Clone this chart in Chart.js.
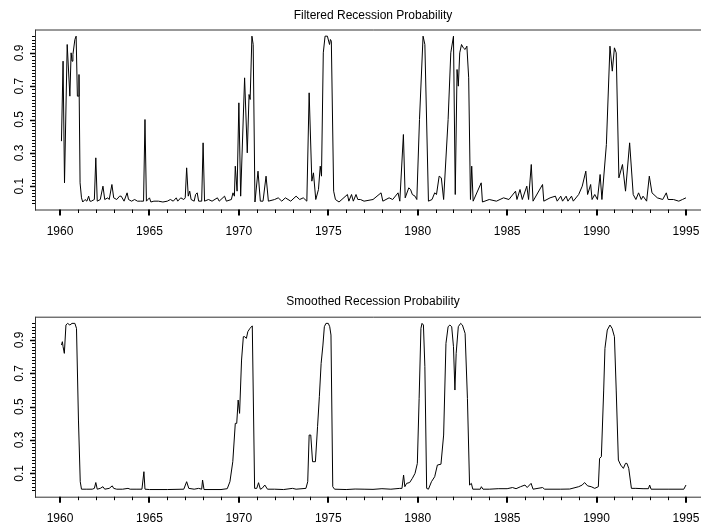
<!DOCTYPE html>
<html>
<head>
<meta charset="utf-8">
<script src="https://cdn.jsdelivr.net/npm/chart.js@4/dist/chart.umd.min.js"></script>
<style>
  html, body { margin: 0; padding: 0; background: #fff; overflow: hidden; width: 701px; height: 525px; }
  .panel { position: absolute; left: 0; }
</style>
</head>
<body>
<div class="panel" style="top:0"><canvas id="filteredChart" width="746" height="262"></canvas></div>
<div class="panel" style="top:262px"><canvas id="smoothedChart" width="746" height="263"></canvas></div>
<script>
// recession probabilities (decimal years)
const filteredYears = [
  1960.08, 1960.17, 1960.25, 1960.40, 1960.55, 1960.62, 1960.67, 1960.72, 1960.83, 1960.90,
  1960.97, 1961.02, 1961.06, 1961.12, 1961.20, 1961.27, 1961.40, 1961.50, 1961.60, 1961.67,
  1961.75, 1961.92, 1962.00, 1962.08, 1962.25, 1962.40, 1962.50, 1962.67, 1962.75, 1962.90,
  1963.00, 1963.17, 1963.33, 1963.42, 1963.58, 1963.75, 1963.83, 1964.00, 1964.17, 1964.33,
  1964.50, 1964.67, 1964.75, 1964.83, 1965.00, 1965.08, 1965.25, 1965.50, 1965.75, 1966.00,
  1966.17, 1966.33, 1966.50, 1966.58, 1966.75, 1966.92, 1967.00, 1967.08, 1967.17, 1967.25,
  1967.33, 1967.50, 1967.58, 1967.67, 1967.75, 1967.92, 1968.00, 1968.08, 1968.30, 1968.50,
  1968.80, 1968.90, 1969.20, 1969.30, 1969.58, 1969.67, 1969.75, 1969.80, 1969.90, 1970.00,
  1970.10, 1970.32, 1970.47, 1970.57, 1970.63, 1970.73, 1970.80, 1970.90, 1971.07, 1971.20,
  1971.35, 1971.52, 1971.65, 1972.00, 1972.20, 1972.40, 1972.60, 1972.90, 1973.20, 1973.40,
  1973.60, 1973.80, 1973.93, 1974.08, 1974.17, 1974.30, 1974.45, 1974.55, 1974.62, 1974.72,
  1974.82, 1974.95, 1975.07, 1975.12, 1975.17, 1975.30, 1975.40, 1975.60, 1976.07, 1976.15,
  1976.30, 1976.40, 1976.55, 1976.65, 1976.80, 1977.00, 1977.50, 1977.95, 1978.05, 1978.40,
  1978.60, 1978.90, 1979.00, 1979.20, 1979.30, 1979.50, 1979.60, 1979.70, 1979.85, 1979.95,
  1980.10, 1980.30, 1980.40, 1980.60, 1980.80, 1980.95, 1981.05, 1981.20, 1981.32, 1981.45,
  1981.70, 1981.85, 1982.00, 1982.10, 1982.20, 1982.27, 1982.35, 1982.45, 1982.55, 1982.65,
  1982.75, 1982.85, 1982.95, 1983.02, 1983.10, 1983.55, 1983.62, 1984.00, 1984.40, 1984.80,
  1985.10, 1985.47, 1985.55, 1985.72, 1985.85, 1986.10, 1986.20, 1986.35, 1986.45, 1986.98,
  1987.05, 1987.40, 1987.70, 1987.80, 1988.00, 1988.10, 1988.30, 1988.40, 1988.60, 1988.70,
  1989.00, 1989.20, 1989.40, 1989.50, 1989.67, 1989.75, 1989.90, 1990.05, 1990.20, 1990.30,
  1990.55, 1990.75, 1990.88, 1991.00, 1991.10, 1991.25, 1991.45, 1991.62, 1991.85, 1992.05,
  1992.20, 1992.35, 1992.50, 1992.60, 1992.80, 1992.95, 1993.10, 1993.40, 1993.70, 1993.90,
  1994.00, 1994.30, 1994.60, 1994.80, 1995.00
];
const filteredProb = [
  0.37, 0.85, 0.12, 0.95, 0.64, 0.90, 0.85, 0.89, 0.98, 1.00,
  0.64, 0.64, 0.77, 0.12, 0.03, 0.005, 0.02, 0.01, 0.04, 0.01,
  0.01, 0.02, 0.27, 0.01, 0.02, 0.10, 0.02, 0.03, 0.02, 0.11,
  0.03, 0.02, 0.04, 0.04, 0.01, 0.06, 0.02, 0.01, 0.02, 0.01,
  0.01, 0.01, 0.50, 0.01, 0.03, 0.005, 0.01, 0.01, 0.005, 0.01,
  0.02, 0.01, 0.03, 0.01, 0.03, 0.02, 0.03, 0.21, 0.04, 0.07,
  0.02, 0.01, 0.05, 0.06, 0.01, 0.01, 0.36, 0.01, 0.02, 0.01,
  0.03, 0.01, 0.04, 0.01, 0.02, 0.06, 0.04, 0.22, 0.07, 0.60,
  0.04, 0.75, 0.30, 0.65, 0.62, 1.00, 0.95, 0.005, 0.19, 0.01,
  0.01, 0.16, 0.01, 0.02, 0.03, 0.01, 0.03, 0.01, 0.04, 0.02,
  0.03, 0.01, 0.66, 0.13, 0.18, 0.02, 0.08, 0.22, 0.16, 0.90,
  1.00, 1.00, 0.95, 0.98, 0.97, 0.07, 0.02, 0.005, 0.05, 0.01,
  0.05, 0.01, 0.05, 0.02, 0.02, 0.01, 0.02, 0.06, 0.01, 0.03,
  0.02, 0.06, 0.01, 0.41, 0.03, 0.09, 0.08, 0.05, 0.04, 0.02,
  0.50, 1.00, 0.95, 0.01, 0.02, 0.06, 0.05, 0.16, 0.15, 0.02,
  0.50, 0.90, 1.00, 0.05, 0.80, 0.70, 0.90, 0.95, 0.93, 0.92,
  0.94, 0.75, 0.02, 0.22, 0.01, 0.12, 0.005, 0.02, 0.01, 0.03,
  0.02, 0.07, 0.02, 0.08, 0.02, 0.10, 0.02, 0.23, 0.01, 0.11,
  0.01, 0.03, 0.04, 0.01, 0.04, 0.01, 0.04, 0.01, 0.04, 0.01,
  0.05, 0.10, 0.19, 0.05, 0.11, 0.02, 0.05, 0.02, 0.17, 0.02,
  0.35, 0.94, 0.79, 0.93, 0.90, 0.15, 0.23, 0.07, 0.36, 0.05,
  0.02, 0.06, 0.02, 0.04, 0.01, 0.16, 0.06, 0.03, 0.02, 0.06,
  0.02, 0.02, 0.01, 0.02, 0.03
];

const smoothedYears = [
  1960.08, 1960.13, 1960.17, 1960.24, 1960.33, 1960.42, 1960.55, 1960.67, 1960.83, 1960.92,
  1961.03, 1961.13, 1961.20, 1961.50, 1961.80, 1961.92, 1962.00, 1962.08, 1962.25, 1962.40,
  1962.50, 1962.75, 1962.92, 1963.00, 1963.17, 1963.50, 1963.80, 1963.92, 1964.25, 1964.58,
  1964.69, 1964.75, 1965.00, 1966.00, 1966.92, 1967.08, 1967.20, 1967.50, 1967.75, 1967.92,
  1967.97, 1968.05, 1969.00, 1969.35, 1969.50, 1969.66, 1969.80, 1969.88, 1969.96, 1970.04,
  1970.15, 1970.25, 1970.33, 1970.42, 1970.50, 1970.62, 1970.75, 1970.88, 1971.00, 1971.10,
  1971.20, 1971.30, 1971.45, 1971.60, 1972.00, 1972.50, 1973.00, 1973.20, 1973.75, 1973.85,
  1973.93, 1974.02, 1974.12, 1974.28, 1974.40, 1974.50, 1974.60, 1974.70, 1974.78, 1974.87,
  1975.00, 1975.08, 1975.15, 1975.25, 1975.35, 1976.00, 1976.50, 1977.00, 1977.50, 1978.00,
  1978.50, 1979.00, 1979.12, 1979.21, 1979.28, 1979.38, 1979.55, 1979.70, 1979.85, 1979.98,
  1980.08, 1980.18, 1980.24, 1980.32, 1980.40, 1980.50, 1980.60, 1980.77, 1980.95, 1981.10,
  1981.30, 1981.45, 1981.58, 1981.70, 1981.80, 1981.90, 1982.00, 1982.08, 1982.15, 1982.27,
  1982.40, 1982.50, 1982.65, 1982.78, 1982.90, 1983.00, 1983.08, 1983.50, 1983.56, 1983.65,
  1984.00, 1984.50, 1985.00, 1985.30, 1985.50, 1985.75, 1986.00, 1986.12, 1986.34, 1986.45,
  1986.98, 1987.10, 1988.00, 1988.50, 1989.00, 1989.20, 1989.33, 1989.50, 1989.70, 1989.90,
  1990.10, 1990.17, 1990.27, 1990.40, 1990.47, 1990.60, 1990.75, 1990.87, 1991.00, 1991.10,
  1991.22, 1991.35, 1991.50, 1991.62, 1991.70, 1991.80, 1991.95, 1992.20, 1992.60, 1992.90,
  1992.97, 1993.05, 1994.00, 1994.88, 1995.00
];
const smoothedProb = [
  0.87, 0.89, 0.86, 0.82, 0.99, 1.00, 0.99, 1.00, 1.00, 0.97,
  0.42, 0.05, 0.005, 0.005, 0.005, 0.01, 0.045, 0.005, 0.01, 0.02,
  0.005, 0.01, 0.025, 0.01, 0.005, 0.005, 0.01, 0.005, 0.005, 0.005,
  0.11, 0.005, 0.003, 0.003, 0.005, 0.05, 0.01, 0.005, 0.01, 0.005,
  0.06, 0.003, 0.003, 0.008, 0.05, 0.17, 0.40, 0.40, 0.54, 0.46,
  0.78, 0.92, 0.92, 0.91, 0.95, 0.97, 0.985, 0.01, 0.01, 0.044,
  0.005, 0.01, 0.03, 0.005, 0.005, 0.003, 0.01, 0.005, 0.01, 0.05,
  0.33, 0.33, 0.17, 0.17, 0.38, 0.56, 0.76, 0.87, 0.98, 1.00,
  1.00, 0.98, 0.93, 0.02, 0.005, 0.003, 0.006, 0.005, 0.004, 0.008,
  0.005, 0.01, 0.01, 0.09, 0.02, 0.04, 0.045, 0.07, 0.10, 0.16,
  0.55, 0.97, 1.00, 0.99, 0.74, 0.01, 0.005, 0.05, 0.08, 0.15,
  0.155, 0.33, 0.88, 0.98, 0.99, 0.98, 0.86, 0.60, 0.82, 0.98,
  1.00, 0.99, 0.94, 0.55, 0.03, 0.04, 0.005, 0.005, 0.02, 0.005,
  0.005, 0.008, 0.008, 0.015, 0.008, 0.02, 0.03, 0.015, 0.04, 0.005,
  0.015, 0.005, 0.005, 0.006, 0.02, 0.03, 0.045, 0.025, 0.02, 0.01,
  0.02, 0.19, 0.20, 0.60, 0.85, 0.96, 0.99, 0.97, 0.92, 0.60,
  0.18, 0.15, 0.13, 0.16, 0.16, 0.13, 0.01, 0.01, 0.008, 0.008,
  0.03, 0.005, 0.005, 0.005, 0.03
];

const yearTicks = [1960, 1961, 1962, 1963, 1964, 1965, 1966, 1967, 1968, 1969,
  1970, 1971, 1972, 1973, 1974, 1975, 1976, 1977, 1978, 1979, 1980, 1981, 1982,
  1983, 1984, 1985, 1986, 1987, 1988, 1989, 1990, 1991, 1992, 1993, 1994, 1995];
const probLabels = [0.1, 0.3, 0.5, 0.7, 0.9];
const probMinorTicks = [0, 0.02, 0.04, 0.06, 0.08, 0.1, 0.12, 0.14, 0.16, 0.18, 0.2,
  0.22, 0.24, 0.26, 0.28, 0.3, 0.32, 0.34, 0.36, 0.38, 0.4, 0.42, 0.44, 0.46, 0.48,
  0.5, 0.52, 0.54, 0.56, 0.58, 0.6, 0.62, 0.64, 0.66, 0.68, 0.7, 0.72, 0.74, 0.76,
  0.78, 0.8, 0.82, 0.84, 0.86, 0.88, 0.9, 0.92, 0.94, 0.96, 0.98, 1.0];

const FONT = "Arial, 'Liberation Sans', sans-serif";
const INK = '#000';
const FRAME = '#333';

// box, minor ticks and rotated y labels (S-style axes)
const sAxes = {
  id: 'sAxes',
  afterDraw(chart) {
    const { ctx, chartArea: a, scales } = chart;
    const x = scales.x, y = scales.y;
    ctx.save();
    ctx.strokeStyle = FRAME;
    ctx.lineWidth = 1;
    ctx.beginPath();
    ctx.moveTo(a.left + 0.5, a.top + 0.5);
    ctx.lineTo(a.right, a.top + 0.5);
    ctx.moveTo(a.left + 0.5, a.top);
    ctx.lineTo(a.left + 0.5, a.bottom + 1);
    ctx.moveTo(a.left, a.bottom + 0.5);
    ctx.lineTo(a.right, a.bottom + 0.5);
    ctx.stroke();

    // year ticks
    ctx.strokeStyle = INK;
    yearTicks.forEach(v => {
      const px = Math.round(x.getPixelForValue(v));
      const major = v % 5 === 0;
      ctx.lineWidth = major ? 2 : 1;
      ctx.beginPath();
      ctx.moveTo(px + (major ? 0 : 0.5), a.bottom);
      ctx.lineTo(px + (major ? 0 : 0.5), a.bottom + (major ? 6 : 3.5));
      ctx.stroke();
    });

    // probability ticks
    ctx.lineWidth = 1;
    probMinorTicks.forEach(v => {
      const py = Math.round(y.getPixelForValue(v)) + 0.5;
      ctx.beginPath();
      ctx.moveTo(a.left, py);
      ctx.lineTo(a.left - 3, py);
      ctx.stroke();
    });
    ctx.lineWidth = 1.5;
    probLabels.forEach(v => {
      const py = Math.round(y.getPixelForValue(v)) + 0.5;
      ctx.beginPath();
      ctx.moveTo(a.left, py);
      ctx.lineTo(a.left - 5, py);
      ctx.stroke();
    });

    ctx.fillStyle = INK;
    ctx.font = '12px ' + FONT;
    ctx.textAlign = 'center';
    ctx.textBaseline = 'middle';
    probLabels.forEach(v => {
      const py = y.getPixelForValue(v);
      ctx.save();
      ctx.translate(a.left - 15, py);
      ctx.rotate(-Math.PI / 2);
      ctx.fillText(v.toFixed(1), 0, 0);
      ctx.restore();
    });
    ctx.restore();
  }
};

function makePanel(id, title, years, probs, titlePad, axisHeight) {
  const ctx = document.getElementById(id).getContext('2d');
  return new Chart(ctx, {
    type: 'line',
    data: {
      datasets: [{
        label: title,
        data: years.map((t, i) => ({ x: t, y: probs[i] })),
        borderColor: INK,
        borderWidth: 1,
        pointRadius: 0,
        tension: 0,
        fill: false
      }]
    },
    options: {
      responsive: false,
      devicePixelRatio: 1,
      animation: false,
      layout: { padding: { left: 0, right: 35, top: 0, bottom: 0 } },
      plugins: {
        legend: { display: false },
        tooltip: { enabled: false },
        title: {
          display: true,
          fullSize: false,
          text: title,
          color: INK,
          font: { family: FONT, size: 12, weight: 'normal', lineHeight: 1.2 },
          padding: titlePad
        }
      },
      scales: {
        x: {
          type: 'linear',
          min: 1958.6,
          max: 1996.4,
          border: { display: false },
          grid: { display: false, drawTicks: false },
          ticks: {
            stepSize: 5,
            includeBounds: false,
            autoSkip: false,
            maxRotation: 0,
            padding: 14.5,
            color: INK,
            font: { family: FONT, size: 12 },
            callback: v => String(v)
          },
          afterFit: s => { s.height = axisHeight; }
        },
        y: {
          type: 'linear',
          min: -0.04,
          max: 1.04,
          border: { display: false },
          grid: { display: false, drawTicks: false },
          ticks: { display: false },
          afterFit: s => { s.width = 35; }
        }
      }
    },
    plugins: [sAxes]
  });
}

makePanel('filteredChart', 'Filtered Recession Probability', filteredYears, filteredProb,
  { top: 8.3, bottom: 6.8 }, 52.5);
makePanel('smoothedChart', 'Smoothed Recession Probability', smoothedYears, smoothedProb,
  { top: 32.2, bottom: 8.1 }, 28.3);
</script>
</body>
</html>
